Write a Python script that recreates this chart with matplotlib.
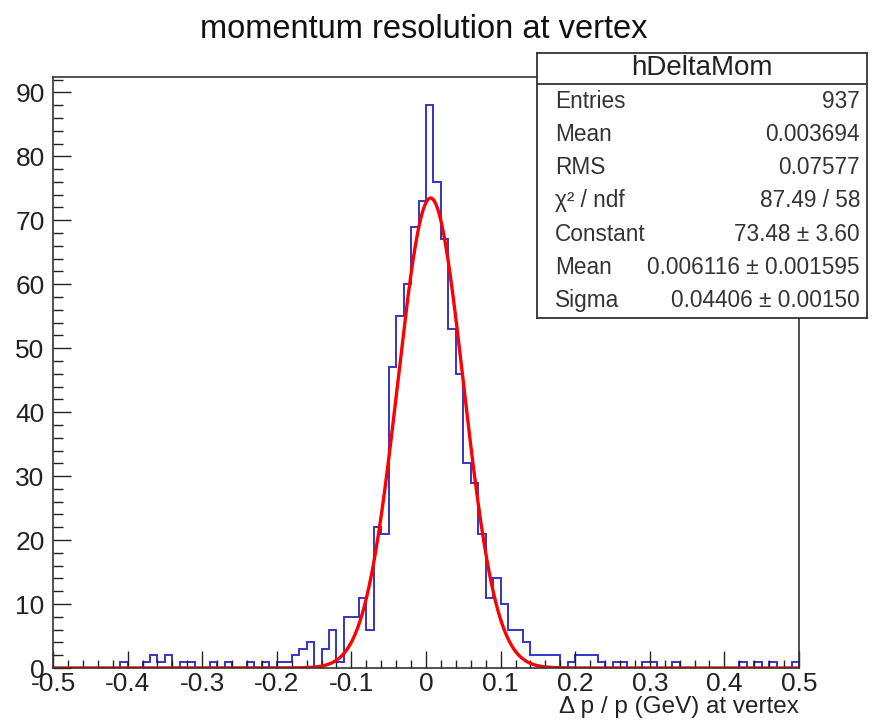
import numpy as np
import matplotlib
matplotlib.use('Agg')
import matplotlib.pyplot as plt
import matplotlib.ticker as ticker

plt.rcParams['font.family'] = ['Liberation Sans', 'DejaVu Sans']
plt.rcParams['axes.unicode_minus'] = False

# ── data ────────────────────────────────────────────────────────────────────
X_MIN, X_MAX, N_BINS = -0.5, 0.5, 100

COUNTS = [
    0, 0, 0, 0, 0, 0, 0, 0, 0, 1,      # -0.50 .. -0.41
    0, 0, 1, 2, 1, 2, 0, 1, 1, 0,      # -0.40 .. -0.31
    0, 1, 0, 1, 0, 0, 1, 0, 1, 0,      # -0.30 .. -0.21
    1, 1, 2, 3, 4, 0, 3, 6, 1, 8,      # -0.20 .. -0.11
    8, 11, 6, 22, 21, 47, 55, 60, 69, 73,   # -0.10 .. -0.01
    88, 76, 67, 53, 46, 32, 29, 21, 11, 14,  # 0.00 .. 0.09
    10, 6, 6, 4, 2, 2, 2, 2, 0, 1,     # 0.10 .. 0.19
    2, 2, 2, 1, 0, 1, 1, 0, 0, 1,      # 0.20 .. 0.29
    1, 0, 0, 1, 0, 0, 0, 0, 0, 0,      # 0.30 .. 0.39
    0, 0, 1, 0, 1, 0, 1, 0, 0, 1,      # 0.40 .. 0.49
]

# gaussian fit parameters shown in the stat box
FIT_CONST = 73.48
FIT_MEAN = 0.006116
FIT_SIGMA = 0.04406

STAT_TITLE = 'hDeltaMom'
STAT_LABELS = ['Entries', 'Mean', 'RMS', 'χ² / ndf', 'Constant', 'Mean', 'Sigma']
STAT_VALUES = ['937', '0.003694', '0.07577', '87.49 / 58',
               '73.48 ± 3.60', '0.006116 ± 0.001595', '0.04406 ± 0.00150']

# ── figure ───────────────────────────────────────────────────────────────────
W, H = 873, 721
fig = plt.figure(figsize=(W / 100, H / 100), dpi=100)

L, R, T, B = 53, 799, 77, 668          # plot frame in pixels
ax = fig.add_axes([L / W, 1 - B / H, (R - L) / W, (B - T) / H])

edges = np.linspace(X_MIN, X_MAX, N_BINS + 1)
ax.stairs(COUNTS, edges, color='#3535c8', linewidth=1.4, baseline=0)

xs = np.linspace(X_MIN, X_MAX, 1000)
ax.plot(xs, FIT_CONST * np.exp(-0.5 * ((xs - FIT_MEAN) / FIT_SIGMA) ** 2),
        color='#ff0000', linewidth=2.4)

ax.set_xlim(X_MIN, X_MAX)
ax.set_ylim(0, 1.05 * max(COUNTS))

ax.xaxis.set_major_locator(ticker.MultipleLocator(0.1))
ax.xaxis.set_minor_locator(ticker.MultipleLocator(0.02))
ax.yaxis.set_major_locator(ticker.MultipleLocator(10))
ax.yaxis.set_minor_locator(ticker.MultipleLocator(2))
ax.xaxis.set_major_formatter(ticker.FuncFormatter(
    lambda v, p: '0' if abs(v) < 1e-9 else f'{v:.1f}'))
ax.yaxis.set_major_formatter(ticker.FuncFormatter(lambda v, p: f'{v:.0f}'))

ax.tick_params(which='both', direction='in', top=False, right=False,
               labelsize=19, color='#222222', labelcolor='#222222')
ax.tick_params(axis='x', which='major', length=12, width=1.0, pad=3)
ax.tick_params(axis='x', which='minor', length=6, width=1.0)
ax.tick_params(axis='y', which='major', length=13, width=1.0, pad=6)
ax.tick_params(axis='y', which='minor', length=7, width=1.0)
for s in ax.spines.values():
    s.set_linewidth(1.2)
    s.set_color('#333333')

fig.text(424 / W, 1 - 30 / H, 'momentum resolution at vertex',
         ha='center', va='center', fontsize=23.5, color='#111111')
fig.text(R / W, 1 - 707 / H, 'Δ p / p (GeV) at vertex',
         ha='right', va='center', fontsize=17.5, color='#222222')

# ── stat box ─────────────────────────────────────────────────────────────────
bl, br, bt, bb = 537, 867, 53, 318
sax = fig.add_axes([bl / W, 1 - bb / H, (br - bl) / W, (bb - bt) / H])
sax.set_xlim(bl, br)
sax.set_ylim(bb, bt)
sax.set_facecolor('white')
sax.set_xticks([])
sax.set_yticks([])
for s in sax.spines.values():
    s.set_linewidth(1.3)
    s.set_color('#333333')
sax.axhline(84, color='#333333', linewidth=1.3)
sax.text((bl + br) / 2, 68, STAT_TITLE, ha='center', va='center',
         fontsize=20, color='#222222')
row_y = 101
for lab, val in zip(STAT_LABELS, STAT_VALUES):
    sax.text(555, row_y, lab, ha='left', va='center', fontsize=16.3, color='#333333')
    sax.text(860, row_y, val, ha='right', va='center', fontsize=16.3, color='#333333')
    row_y += 33.3

fig.savefig('out.png', dpi=100)
